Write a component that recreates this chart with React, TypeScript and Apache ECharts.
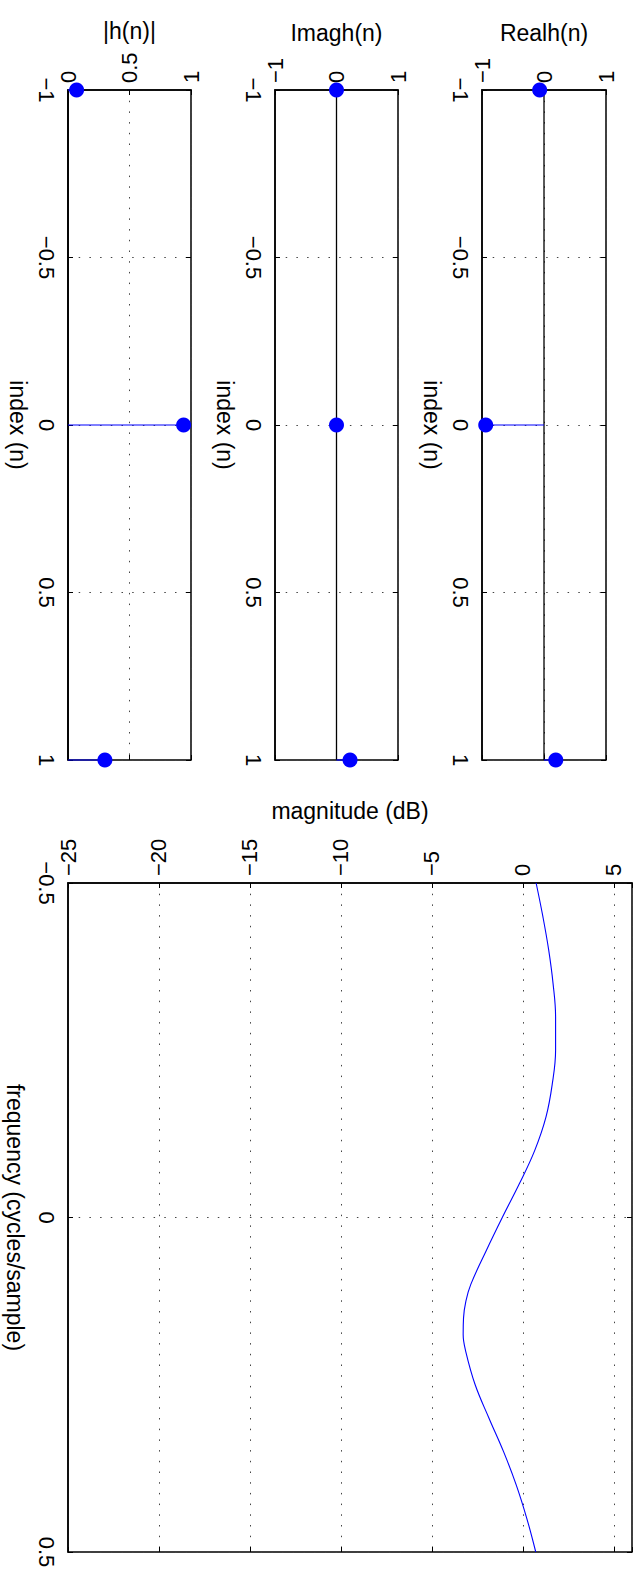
import React, { useEffect, useRef } from "react";
import * as echarts from "echarts";

// Impulse response samples h(n), n = -1, 0, 1
const stemIndex = [-1, 0, 1];
const realH = [-0.07, -0.94, 0.19];
const imagH = [0, 0, 0.22];
const absH = [0.07, 0.94, 0.3];

// Frequency response magnitude
const freq = [
  -0.5, -0.45, -0.4, -0.35, -0.3, -0.25, -0.2, -0.15, -0.1, -0.05, 0,
  0.05, 0.1, 0.125, 0.15, 0.175, 0.2, 0.25, 0.3, 0.35, 0.4, 0.45, 0.5,
];
const magDb = [
  0.73, 1.1, 1.42, 1.66, 1.8, 1.8, 1.62, 1.27, 0.65, -0.2, -1.13,
  -2.02, -2.86, -3.13, -3.26, -3.28, -3.14, -2.62, -1.86, -1.06, -0.36, 0.22, 0.71,
];

const FONT = '"Liberation Sans", Arial, Helvetica, sans-serif';
const BLUE = "#0000ff";
const BLACK = "#000000";
const DOTS = { color: "#444", width: 1, type: [1.5, 9.2] as any };

const fmt = (v: number) => {
  const r = Math.round(v * 100) / 100;
  const s = String(Math.abs(r));
  return r < 0 ? "\u2212" + s : s;
};

type Panel = {
  left: number;
  top: number;
  width: number;
  height: number;
  vMin: number;
  vMax: number;
  vStep: number;
  vName: string;
  vNameGap: number;
  iMin: number;
  iMax: number;
  iStep: number;
  iName: string;
  iNameGap: number;
  labelMax: number;
};

const panels: Panel[] = [
  { left: 482, top: 90, width: 124, height: 670, vMin: -1, vMax: 1, vStep: 1, vName: "Realh(n)", vNameGap: 46, iMin: -1, iMax: 1, iStep: 0.5, iName: "index (n)", iNameGap: 39, labelMax: 1 },
  { left: 275, top: 90, width: 123, height: 670, vMin: -1, vMax: 1, vStep: 1, vName: "Imagh(n)", vNameGap: 46, iMin: -1, iMax: 1, iStep: 0.5, iName: "index (n)", iNameGap: 39, labelMax: 1 },
  { left: 68, top: 90, width: 123, height: 670, vMin: 0, vMax: 1, vStep: 0.5, vName: "|h(n)|", vNameGap: 48, iMin: -1, iMax: 1, iStep: 0.5, iName: "index (n)", iNameGap: 39, labelMax: 1 },
  { left: 68, top: 883, width: 564, height: 669, vMin: -25, vMax: 6, vStep: 5, vName: "magnitude (dB)", vNameGap: 61, iMin: -0.5, iMax: 0.5, iStep: 0.5, iName: "frequency (cycles/sample)", iNameGap: 42, labelMax: 5 },
];

const tick = { show: true, inside: true, length: 5, lineStyle: { color: BLACK, width: 1 } };
const labelText = { fontSize: 22, color: BLACK, fontFamily: FONT };
const nameText = { fontSize: 23, color: BLACK, fontFamily: FONT };

function buildOption() {
  const grid: any[] = [];
  const xMain: any[] = [];
  const yMain: any[] = [];
  const xMirror: any[] = [];
  const yMirror: any[] = [];

  panels.forEach((p, i) => {
    grid.push({
      left: p.left,
      top: p.top,
      width: p.width,
      height: p.height,
      show: true,
      borderColor: BLACK,
      borderWidth: 1.5,
      backgroundColor: "#fff",
      containLabel: false,
      outerBoundsMode: "none",
    });
    xMain.push({
      gridIndex: i,
      type: "value",
      position: "top",
      min: p.vMin,
      max: p.vMax,
      interval: p.vStep,
      name: p.vName,
      nameLocation: "middle",
      nameGap: p.vNameGap,
      nameMoveOverlap: false,
      nameTextStyle: nameText,
      axisLine: { show: true, onZero: false, lineStyle: { color: BLACK, width: 1.5 } },
      axisTick: tick,
      axisLabel: {
        ...labelText,
        rotate: -90,
        margin: 7,
        formatter: (v: number) => (v > p.labelMax + 1e-9 ? "" : fmt(v)),
      },
      splitLine: { show: true, lineStyle: DOTS },
    });
    yMain.push({
      gridIndex: i,
      type: "value",
      position: "left",
      inverse: true,
      min: p.iMin,
      max: p.iMax,
      interval: p.iStep,
      name: p.iName,
      nameLocation: "middle",
      nameRotate: -90,
      nameGap: p.iNameGap,
      nameMoveOverlap: false,
      nameTextStyle: nameText,
      axisLine: { show: true, onZero: false, lineStyle: { color: BLACK, width: 1.5 } },
      axisTick: tick,
      axisLabel: { ...labelText, rotate: -90, margin: 11, formatter: fmt },
      splitLine: { show: true, lineStyle: DOTS },
    });
    xMirror.push({
      gridIndex: i,
      type: "value",
      position: "bottom",
      min: p.vMin,
      max: p.vMax,
      interval: p.vStep,
      axisLine: { show: false, onZero: false },
      axisTick: tick,
      axisLabel: { show: false },
      splitLine: { show: false },
    });
    yMirror.push({
      gridIndex: i,
      type: "value",
      position: "right",
      inverse: true,
      min: p.iMin,
      max: p.iMax,
      interval: p.iStep,
      axisLine: { show: false, onZero: false },
      axisTick: tick,
      axisLabel: { show: false },
      splitLine: { show: false },
    });
  });

  const series: any[] = [];
  [realH, imagH, absH].forEach((vals, i) => {
    const pts = vals.map((v, k) => [v, stemIndex[k]]);
    // stem baseline at zero
    series.push({
      type: "line",
      xAxisIndex: i,
      yAxisIndex: i,
      data: [
        [0, stemIndex[0]],
        [0, stemIndex[stemIndex.length - 1]],
      ],
      symbol: "none",
      lineStyle: { color: BLACK, width: 1.3 },
      silent: true,
      z: 3,
    });
    // stems
    series.push({
      type: "custom",
      xAxisIndex: i,
      yAxisIndex: i,
      data: pts,
      silent: true,
      z: 4,
      renderItem: (_params: any, api: any) => {
        const v = api.value(0);
        const n = api.value(1);
        const a = api.coord([0, n]);
        const b = api.coord([v, n]);
        return {
          type: "line",
          shape: { x1: a[0], y1: a[1], x2: b[0], y2: b[1] },
          style: { stroke: BLUE, lineWidth: 1.2 },
        };
      },
    });
    // stem heads
    series.push({
      type: "scatter",
      xAxisIndex: i,
      yAxisIndex: i,
      data: pts,
      symbol: "circle",
      symbolSize: 15,
      itemStyle: { color: BLUE, opacity: 1 },
      clip: false,
      silent: true,
      z: 5,
    });
  });

  series.push({
    type: "line",
    xAxisIndex: 3,
    yAxisIndex: 3,
    data: magDb.map((d, k) => [d, freq[k]]),
    smooth: 0.4,
    symbol: "none",
    lineStyle: { color: BLUE, width: 1.1 },
    silent: true,
  });

  return {
    animation: false,
    backgroundColor: "#ffffff",
    textStyle: { fontFamily: FONT },
    grid,
    xAxis: [...xMain, ...xMirror],
    yAxis: [...yMain, ...yMirror],
    series,
  };
}

export default function App() {
  const ref = useRef<HTMLDivElement>(null);
  useEffect(() => {
    if (!ref.current) return;
    const chart = echarts.init(ref.current, undefined, { renderer: "svg" });
    chart.setOption(buildOption() as any);
    return () => chart.dispose();
  }, []);
  return (
    <div
      ref={ref}
      style={{ position: "absolute", left: 0, top: 0, width: 635, height: 1575, background: "#fff" }}
    />
  );
}
